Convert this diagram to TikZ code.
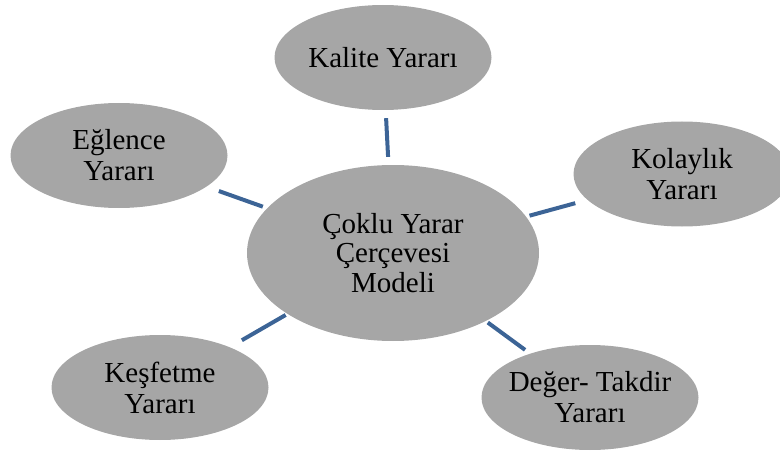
\documentclass[tikz,border=0pt]{standalone}
\usepackage{fontspec}
\setmainfont{Liberation Serif}
\usepackage{xcolor}
\usepackage{tikz}
\usetikzlibrary{shapes.geometric}
\definecolor{blob}{HTML}{A6A6A6}
\definecolor{link}{HTML}{3C6496}
\tikzset{
  hub/.style ={ellipse, fill=blob, minimum width=292pt, minimum height=176pt, inner sep=0pt, align=center, font=\fontsize{29}{29.5}\selectfont},
  ben/.style ={ellipse, fill=blob, minimum width=217pt, minimum height=105pt, inner xsep=-20pt, inner ysep=0pt, align=center, font=\fontsize{29}{31}\selectfont},
  conn/.style={draw=link, line width=4pt},
}

\begin{document}
\begin{tikzpicture}[x=1pt, y=-1pt]
        \useasboundingbox (0,0) rectangle (780,452);
        \node[hub] (M) at (393,253)   {Çoklu Yarar\\Çerçevesi\\Modeli};
        \node[ben] (K) at (383,57.5)  {Kalite Yararı};
        \node[ben] (E) at (119,155.5) {Eğlence\\Yararı};
        \node[ben] (L) at (682,174)   {Kolaylık\\Yararı};
        \node[ben] (F) at (160,387.5) {Keşfetme\\Yararı};
        \node[ben] (D) at (590,397.5) {Değer- Takdir\\Yararı};
        \draw[conn, shorten <=8pt,  shorten >=8pt]   (K) -- (M);
        \draw[conn, shorten <=13pt, shorten >=4.5pt] (E) -- (M);
        \draw[conn, shorten <=12.5pt, shorten >=3.5pt] (L) -- (M);
        \draw[conn, shorten <=13.8pt, shorten >=2pt] (F) -- (M);
        \draw[conn, shorten <=6.2pt, shorten >=2.4pt] (D) -- (M);
      \end{tikzpicture}
\end{document}
